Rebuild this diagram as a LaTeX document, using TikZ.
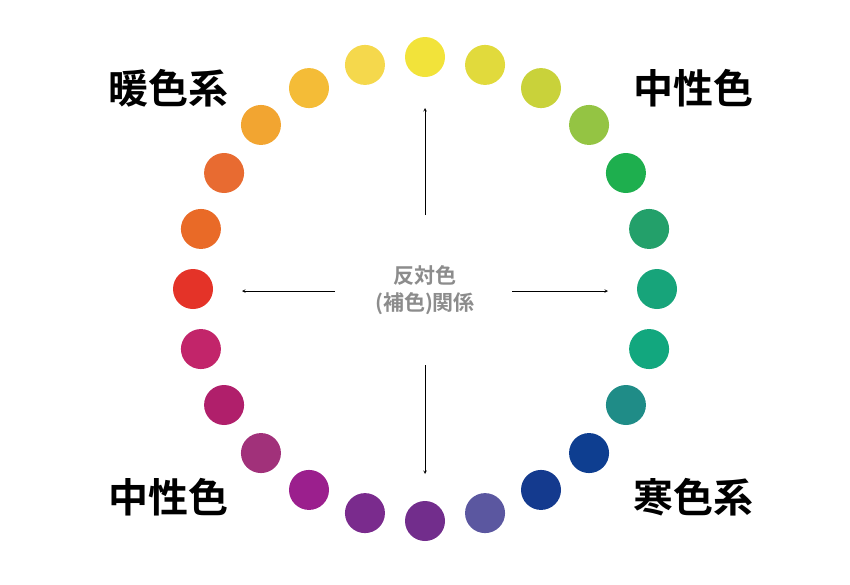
\documentclass[tikz,border=0pt]{standalone}
\usepackage{fontspec}
\newfontfamily\cjk{Noto Sans CJK JP}[BoldFont={Noto Sans CJK JP Bold}]
\begin{document}
\begin{tikzpicture}[x=1pt,y=-1pt]
%============================================================
%  Estilos dos circulos, setas e textos
%============================================================
\tikzset{
    >=stealth,
    seta/.style={ %
            ->,          % seta no final
            semithick    % linha media
        },
    circulo/.style={ %
            circle,
            minimum size=40pt,
            inner sep=0pt
        },
    rotulo/.style={ %
            font=\cjk\bfseries\fontsize{40}{44}\selectfont
        },
    centro/.style={ %
            font=\cjk\bfseries\fontsize{21}{27}\selectfont,
            text=gray!90,
            align=center
        },
}
   \useasboundingbox (0,0) rectangle (850,584);
   % cores da roda (a partir do topo, sentido horario)
   \foreach \cor [count=\i from 0] in {F2E33A,E1DA3C,C9D23A,94C443,1EAF4E,23A06A,
        17A47A,12A77E,1F8C87,0E3E90,143A8E,5B57A0,722D8C,7A2B8D,9B1F8D,A1317A,
        B01F6B,C2256A,E43328,E96A27,E86B31,F2A531,F4BC37,F5D84C} {
      \definecolor{c\i}{HTML}{\cor}
      \node[circulo,fill=c\i] (c\i) at ({425+232*sin(15*\i)},{289-232*cos(15*\i)}) {};
   }
   % texto central
   \node[centro] (meio) at (425,290) {反対色\\(補色)関係};
   \coordinate (ncima) at (425,215);
   \coordinate (nbaixo) at (425,365);
   \coordinate (nesq) at (335,291);
   \coordinate (ndir) at (512,291);
   \coordinate (tcima) at (425,108);
   \coordinate (tbaixo) at (425,474);
   \coordinate (tesq) at (242,291);
   \coordinate (tdir) at (608,291);
   \draw[seta] (ncima) -- (tcima);
   \draw[seta] (nbaixo) -- (tbaixo);
   \draw[seta] (nesq) -- (tesq);
   \draw[seta] (ndir) -- (tdir);
   % rotulos dos cantos
   \node[rotulo] (quente) at (168,88) {暖色系};
   \node[rotulo] (neutro1) at (693,88) {中性色};
   \node[rotulo] (neutro2) at (168,497) {中性色};
   \node[rotulo] (frio) at (693,497) {寒色系};
\end{tikzpicture}
\end{document}
